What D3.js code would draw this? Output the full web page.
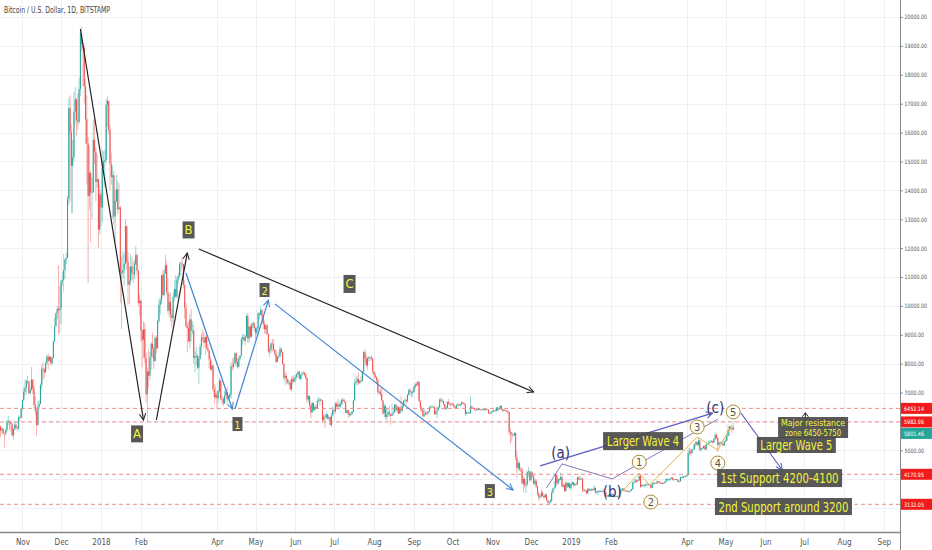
<!DOCTYPE html>
<html>
<head>
<meta charset="utf-8">
<script src="https://d3js.org/d3.v7.min.js"></script>
<style>
html, body { margin: 0; padding: 0; background: #fff; }
svg { display: block; }
.tick text { fill: #555; }
</style>
</head>
<body>
<svg id="chart" width="932" height="550"></svg>
<script>
// ---- data (Bitstamp BTC/USD daily) ----
var monthStarts = ["2017-10-15","2017-11-01","2017-12-01","2018-01-01","2018-02-01","2018-03-01",
  "2018-04-01","2018-05-01","2018-06-01","2018-07-01","2018-08-01","2018-09-01","2018-10-01",
  "2018-11-01","2018-12-01","2019-01-01","2019-02-01","2019-03-01","2019-04-01","2019-05-01"];

var firstOpen = 5830;

var closes = [
  [5690,5750,5600,5590,5710,6000,6000,5980,5900,5520,5740,5890,5770,5760,6140,6130,6450],
  [6740,7030,7160,7400,7380,6980,7100,7450,7140,6570,6340,5870,6520,6600,7270,7830,7800,7700,8030,8240,8100,8240,8020,8200,8770,9300,9740,9900,9850,9920],
  [10860,10910,11240,11610,11670,13710,16850,16000,14850,15150,16730,17150,16450,16370,17500,19430,19050,18940,17600,16460,15620,13800,14610,13920,13950,15750,15330,14290,14390,12640,13860],
  [13410,14760,15000,15050,16960,17100,16090,14920,14460,14520,13090,13630,14040,13340,13410,11150,11140,11250,11460,12760,11510,10740,10850,11360,11120,11090,11430,11760,11210,10100,10180],
  [9140,8830,9190,8210,6940,7730,7580,8240,8690,8530,8090,8890,8530,9480,10030,10180,11060,10380,11120,11410,10470,9830,10140,9690,9580,10310,10580,10320],
  [10920,11020,11440,11470,11450,10720,9920,9300,9230,8770,9530,9140,9150,8200,8260,8270,7860,8180,8600,8910,8900,8720,8920,8550,8450,8150,7800,7930,7110,6840,6930],
  [6810,7050,7420,6790,6780,6620,6900,7020,6770,6830,6940,7920,7890,8000,8360,8060,7890,8170,8280,8860,8920,8800,8940,9650,8870,9280,8940,9350,9400,9240],
  [9070,9220,9740,9700,9850,9640,9370,9190,9320,9030,8420,8480,8700,8680,8480,8340,8060,8240,8250,8510,8400,7990,7510,7580,7470,7340,7340,7110,7470,7380,7500],
  [7530,7640,7720,7480,7610,7650,7690,7620,7510,6760,6880,6550,6310,6640,6400,6500,6460,6710,6740,6760,6710,6050,6170,6150,6250,6090,6150,5880,6210,6390],
  [6350,6620,6510,6590,6530,6600,6750,6710,6670,6300,6390,6250,6220,6260,6350,6730,7330,7380,7470,7330,7410,7400,7720,8400,8170,7940,8190,8230,8220,8180,7730],
  [7610,7540,7420,7010,7030,6940,6720,6280,6540,6150,6240,6320,6250,6190,6270,6320,6580,6390,6490,6270,6480,6370,6530,6700,6730,6700,6920,7080,7030,6990,7010],
  [7190,7280,7260,7370,6710,6480,6400,6180,6230,6300,6280,6330,6480,6490,6520,6490,6250,6340,6390,6490,6760,6710,6710,6600,6430,6460,6680,6610,6590,6620],
  [6590,6510,6460,6560,6590,6550,6590,6660,6640,6590,6260,6310,6310,6290,6520,6470,6460,6410,6400,6420,6430,6420,6410,6420,6410,6410,6420,6410,6280,6280,6330],
  [6370,6380,6360,6480,6400,6460,6540,6420,6370,6390,6380,6360,6310,5630,5610,5540,5520,5600,4760,4390,4560,4340,4330,3850,4010,3790,3820,4250,4270,3970],
  [4230,4130,3840,3950,3750,3500,3370,3400,3540,3420,3370,3470,3260,3190,3190,3230,3530,3680,3720,4140,3860,4000,3980,4080,3750,3800,3590,3880,3730,3860,3700],
  [3840,3900,3790,3840,3820,4060,4000,4010,4020,3630,3630,3610,3510,3670,3600,3630,3660,3620,3700,3540,3550,3590,3570,3590,3580,3580,3540,3440,3400,3460,3430],
  [3460,3490,3400,3400,3420,3390,3380,3640,3640,3680,3600,3610,3590,3570,3570,3600,3650,3890,3900,3960,3920,3960,4110,3740,3800,3780,3800,3800],
  [3820,3820,3790,3700,3850,3860,3870,3850,3930,3910,3860,3870,3860,3870,3920,4010,3980,3980,4020,4050,3980,3990,4000,3990,3910,3930,4070,4040,4100,4100,4100],
  [4140,4900,4960,4900,5030,5050,5190,5290,5190,5340,5020,5070,5070,5150,5030,5210,5240,5280,5290,5320,5270,5380,5530,5430,5190,5270,5280,5210,5170,5300],
  [5340,5490,5700,5830,5760,5720,5801.46]
];

var highs = [
  [5850,5790,5770,5610,5750,6050,6190,6060,6020,5940,5760,5990,6000,5840,6200,6210,6470],
  [6760,7200,7450,7450,7590,7430,7200,7880,7440,7260,6860,6470,6720,6720,7320,7970,8050,7860,8080,8300,8360,8280,8240,8250,8800,9600,9780,10000,11400,10700],
  [10900,11180,11800,11640,11840,13800,17200,17290,16280,15750,17400,17570,17200,17350,17900,19500,19666,19120,19000,17860,17280,15820,15550,14680,14450,16450,16490,15500,15260,14400,14200],
  [14000,15400,15350,15400,17170,17250,17080,16270,15300,14870,14680,14000,14540,14340,14240,13470,11700,11900,11800,13000,12780,11860,11360,11800,11700,11540,11620,12070,11820,11250,10400],
  [10230,9180,9460,9400,8370,7870,8520,8400,8740,9070,8600,8970,8980,9520,10240,10300,11080,11250,11250,11770,11570,10950,10420,10470,9880,10460,10880,11060],
  [11040,11150,11520,11530,11690,11450,10890,10100,9420,9450,9700,9880,9470,9340,8420,8580,8350,8270,8690,9050,9170,9090,8980,8990,8680,8480,8250,8090,7970,7290,7220],
  [7050,7100,7520,7440,6910,6860,7070,7100,7180,6890,6980,8060,8200,8190,8400,8390,8180,8240,8300,8930,9040,9020,9000,9720,9750,9300,9380,9400,9460,9450],
  [9260,9270,9790,9780,9990,9910,9680,9480,9370,9390,9050,8620,8740,8870,8840,8500,8460,8270,8390,8600,8560,8430,8030,7720,7660,7480,7420,7430,7550,7580,7610],
  [7600,7680,7760,7760,7650,7710,7750,7710,7680,7510,6920,6900,6600,6700,6660,6560,6580,6800,6860,6800,6790,6740,6250,6270,6350,6270,6200,6170,6300,6530],
  [6450,6680,6680,6780,6690,6690,6820,6800,6790,6690,6400,6400,6340,6330,6370,6750,7480,7560,7560,7700,7430,7570,7750,8450,8490,8300,8240,8260,8240,8280,8200],
  [7750,7700,7560,7480,7100,7160,7150,6740,6620,6560,6480,6410,6540,6270,6620,6480,6600,6600,6560,6540,6500,6890,6600,6740,6810,6770,6950,7140,7150,7080,7080],
  [7240,7340,7350,7400,7380,6720,6530,6450,6450,6350,6380,6370,6530,6570,6560,6530,6520,6390,6520,6530,6800,6830,6780,6720,6600,6530,6700,6780,6640,6630],
  [6640,6610,6530,6600,6640,6600,6610,6690,6680,6640,6590,6350,6330,6330,6900,6560,6480,6490,6430,6440,6460,6450,6440,6440,6440,6430,6440,6430,6420,6310,6360],
  [6400,6420,6400,6500,6500,6480,6560,6550,6430,6420,6410,6400,6380,6340,5750,5630,5560,5650,5620,4980,4650,4620,4430,4400,4110,4070,3920,4300,4420,4290],
  [4300,4240,4140,4040,3950,3770,3550,3450,3640,3610,3430,3510,3480,3280,3270,3310,3610,3690,3950,4170,4190,4020,4040,4230,4120,3860,3840,3950,3890,3900,3880],
  [3850,3930,3900,3860,3880,4090,4090,4110,4060,4030,3690,3650,3630,3700,3690,3680,3680,3670,3780,3720,3580,3630,3620,3610,3610,3680,3590,3540,3450,3480,3500],
  [3510,3500,3500,3440,3440,3430,3400,3720,3680,3690,3690,3630,3640,3610,3620,3640,3680,3920,4000,4000,4000,3980,4200,4180,3840,3820,3830,3880],
  [3860,3840,3840,3800,3880,3890,3900,3900,3960,3940,3920,3890,3890,3900,3940,4040,4020,4030,4050,4080,4080,4010,4020,4010,4000,3950,4100,4080,4120,4140,4120],
  [4160,5060,5100,5050,5060,5240,5230,5340,5300,5450,5360,5100,5120,5170,5190,5240,5270,5350,5350,5360,5340,5430,5620,5590,5460,5300,5310,5290,5260,5320],
  [5400,5540,5890,5840,5840,5810,5980]
];

var lows = [
  [5450,5570,5530,5100,5500,5620,5870,5700,5660,5480,5360,5680,5710,5700,5710,6030,6110],
  [6380,6680,6900,6970,7280,6940,6950,7050,6960,6430,6200,5500,5870,6420,6600,7110,7450,7500,7680,7950,7810,8080,7930,7960,8160,8740,9270,9530,9000,9080],
  [9390,10700,10500,10930,11450,11650,13500,13600,13200,13200,15000,16290,15870,16100,16280,17250,18800,17600,17000,15600,14200,10800,13330,12200,13000,13900,14900,13630,14090,12000,12480],
  [12750,12900,14680,14100,14950,16210,15950,14000,14200,13020,12800,12200,13580,13170,13350,10100,9200,10950,10700,11430,11250,10040,10060,10700,10900,10800,10930,11410,11050,10000,9660],
  [8760,7880,8190,8020,6650,5970,7150,7430,7800,8200,7820,8080,8360,8520,9400,9700,10060,10300,10340,11100,10420,9750,9600,9470,9250,9400,10150,10260],
  [10240,10750,11000,11050,11270,10600,9550,9230,8400,8740,8530,8770,9020,8000,7700,7950,7800,7300,8140,8300,8780,8550,8300,8500,8400,7850,7780,7730,7040,6600,6780],
  [6430,6630,7000,6720,6580,6520,6610,6880,6620,6720,6810,6780,7760,7820,7990,7930,7830,7860,8110,8260,8620,8750,8650,8920,8720,8730,8880,8900,9230,9130],
  [8850,8980,9180,9520,9670,9460,9190,9040,9020,9000,8350,8230,8340,8400,8440,8250,8030,8040,8160,8220,8350,7970,7430,7260,7320,7290,7240,7090,7060,7290,7350],
  [7360,7440,7600,7460,7400,7470,7640,7560,7450,6650,6650,6470,6110,6300,6360,6360,6440,6420,6660,6550,6690,5950,5980,5770,6080,6070,6040,5850,5790,6180],
  [6260,6270,6480,6410,6480,6470,6560,6660,6640,6280,6280,6130,6160,6190,6230,6330,6720,7270,7240,7280,7290,7380,7380,7680,8030,7890,7800,8080,8100,8100,7670],
  [7460,7480,7300,6940,6920,6860,6700,6240,6150,6100,6030,6160,6170,5890,6190,6200,6290,6350,6300,6250,6270,6280,6330,6470,6660,6570,6660,6890,6900,6830,6850],
  [7000,7110,7210,7220,6680,6330,6350,6140,6160,6230,6210,6230,6320,6420,6480,6440,6230,6240,6120,6380,6470,6670,6660,6560,6400,6400,6440,6580,6510,6540],
  [6540,6470,6420,6450,6510,6530,6520,6570,6600,6550,6190,6230,6290,6250,6260,6430,6430,6380,6380,6370,6400,6390,6380,6390,6380,6380,6390,6380,6270,6260,6270],
  [6310,6330,6320,6330,6370,6370,6440,6390,6320,6360,6350,6330,6260,5520,5210,5310,5460,5490,4660,4060,4290,4290,4250,3810,3540,3700,3520,3750,4080,3900],
  [3950,4070,3820,3780,3700,3430,3240,3320,3400,3380,3330,3360,3250,3170,3122,3180,3220,3500,3640,3720,3780,3800,3930,3970,3710,3710,3560,3580,3690,3720,3650],
  [3640,3780,3750,3760,3790,3800,3980,3960,3990,3550,3560,3560,3470,3500,3580,3590,3580,3590,3610,3480,3520,3440,3550,3550,3540,3560,3490,3380,3380,3390,3400],
  [3410,3440,3390,3380,3390,3370,3360,3380,3600,3610,3590,3570,3570,3550,3550,3560,3600,3640,3840,3880,3890,3900,3940,3700,3730,3760,3690,3780],
  [3780,3800,3760,3680,3700,3820,3840,3840,3850,3880,3840,3830,3830,3840,3860,3910,3960,3950,3960,4000,3960,3960,3970,3980,3900,3880,3920,4020,4030,4070,4080],
  [4100,4130,4830,4790,4890,5010,5030,5180,5140,5150,4980,4940,5040,5050,5010,5010,5180,5220,5240,5260,5240,5260,5370,5400,4940,5150,5240,5180,5150,5160],
  [5290,5320,5490,5510,5690,5600,5700]
];

var tickDates = ["2017-11-01","2017-12-01","2018-01-01","2018-02-01","2018-04-01","2018-05-01","2018-06-01",
  "2018-07-01","2018-08-01","2018-09-01","2018-10-01","2018-11-01","2018-12-01","2019-01-01","2019-02-01",
  "2019-04-01","2019-05-01","2019-06-01","2019-07-01","2019-08-01","2019-09-01"];
var tickLabels = ["Nov","Dec","2018","Feb","Apr","May","Jun","Jul","Aug","Sep","Oct","Nov","Dec","2019","Feb",
  "Apr","May","Jun","Jul","Aug","Sep"];

var priceTicks = [3000,4000,5000,6000,7000,8000,9000,10000,11000,12000,13000,14000,15000,16000,17000,18000,19000,20000];
var levelPrices = [6452.14, 5982.96, 4170.95, 3132.05];
var lastPrice = 5801.46;

// ---- layout ----
var width = 932, height = 550, plotRight = 900, plotBottom = 532;
var upColor = "#26a69a", downColor = "#ef5350";
var narrow = "'Liberation Sans Narrow','DejaVu Sans Condensed','Roboto Condensed',sans-serif";
var fmt = d3.format(".2f");

var parse = d3.utcParse("%Y-%m-%d");
var x = d3.scaleUtc()
  .domain([parse("2018-01-01"), parse("2019-01-01")])
  .range([101, 571]);
var y = d3.scaleLinear().domain([3132.05, 20000]).range([504.3, 17]);

var svg = d3.select("#chart");

var defs = svg.append("defs");
defs.append("clipPath").attr("id", "plotclip")
  .append("rect").attr("x", 0).attr("y", 0).attr("width", plotRight).attr("height", plotBottom);

function marker(id, color) {
  defs.append("marker")
    .attr("id", id)
    .attr("viewBox", "0 0 10 10")
    .attr("refX", 9).attr("refY", 5)
    .attr("markerWidth", 8).attr("markerHeight", 8)
    .attr("markerUnits", "userSpaceOnUse")
    .attr("orient", "auto")
    .append("path")
    .attr("d", "M1,1 L9,5 L1,9")
    .attr("fill", "none")
    .attr("stroke", color)
    .attr("stroke-width", 1.3);
}
marker("arr-black", "#222");
marker("arr-blue", "#3d85d1");
marker("arr-indigo", "#5a5fc0");

// ---- grid ----
var grid = svg.append("g");
grid.selectAll(".hg").data(priceTicks).enter().append("line")
  .attr("x1", 0).attr("x2", plotRight)
  .attr("y1", function(d) { return Math.round(y(d)) + 0.5; })
  .attr("y2", function(d) { return Math.round(y(d)) + 0.5; })
  .attr("stroke", "#eef0f5");
grid.selectAll(".vg").data(tickDates).enter().append("line")
  .attr("y1", 0).attr("y2", plotBottom)
  .attr("x1", function(d) { return Math.round(x(parse(d))) + 0.5; })
  .attr("x2", function(d) { return Math.round(x(parse(d))) + 0.5; })
  .attr("stroke", "#eef0f5");

// ---- candles ----
var candles = [];
var prev = firstOpen;
monthStarts.forEach(function(m, mi) {
  var start = parse(m);
  closes[mi].forEach(function(c, i) {
    var o = prev;
    candles.push({
      date: d3.utcDay.offset(start, i),
      o: o, c: c,
      h: Math.max(highs[mi][i], o, c),
      l: Math.min(lows[mi][i], o, c)
    });
    prev = c;
  });
});

var cg = svg.append("g").attr("clip-path", "url(#plotclip)");
cg.selectAll(".wick").data(candles).enter().append("line")
  .attr("x1", function(d) { return x(d.date); })
  .attr("x2", function(d) { return x(d.date); })
  .attr("y1", function(d) { return y(d.h); })
  .attr("y2", function(d) { return y(d.l); })
  .attr("stroke", function(d) { return d.c >= d.o ? upColor : downColor; })
  .attr("stroke-width", 0.6)
  .attr("opacity", 0.75);
cg.selectAll(".body").data(candles).enter().append("rect")
  .attr("x", function(d) { return x(d.date) - 0.55; })
  .attr("width", 1.1)
  .attr("y", function(d) { return y(Math.max(d.o, d.c)); })
  .attr("height", function(d) { return Math.max(0.8, Math.abs(y(d.o) - y(d.c))); })
  .attr("fill", function(d) { return d.c >= d.o ? upColor : downColor; });

// ---- support / resistance levels ----
svg.append("g").selectAll("line").data(levelPrices).enter().append("line")
  .attr("x1", 0).attr("x2", plotRight)
  .attr("y1", function(d) { return y(d); })
  .attr("y2", function(d) { return y(d); })
  .attr("stroke", "#f08c8c")
  .attr("stroke-width", 1)
  .attr("stroke-dasharray", "4,3");

// ---- annotations (anchored in date / price space) ----
var ann = svg.append("g").attr("clip-path", "url(#plotclip)");
function pt(p) { return [x(parse(p[0])), y(p[1])]; }
function segment(a, b, color, mk, w) {
  var p1 = pt(a), p2 = pt(b);
  ann.append("line")
    .attr("x1", p1[0]).attr("y1", p1[1]).attr("x2", p2[0]).attr("y2", p2[1])
    .attr("stroke", color).attr("stroke-width", w || 1.2)
    .attr("marker-end", mk ? "url(#" + mk + ")" : null);
}
function path(points, color, w) {
  ann.append("path")
    .attr("d", d3.line()(points.map(pt)))
    .attr("fill", "none").attr("stroke", color).attr("stroke-width", w || 1);
}

var blackArrows = [
  [["2017-12-16", 19585], ["2018-02-03", 6050]],
  [["2018-02-13", 6050], ["2018-03-09", 11830]],
  [["2018-03-18", 11970], ["2018-12-03", 7020]]
];
var blueArrows = [
  [["2018-03-08", 11140], ["2018-04-13", 6430]],
  [["2018-04-15", 6430], ["2018-05-11", 10200]],
  [["2018-05-16", 10070], ["2018-11-17", 3630]]
];
blackArrows.forEach(function(s) { segment(s[0], s[1], "#222", "arr-black", 1.2); });
blueArrows.forEach(function(s) { segment(s[0], s[1], "#3d85d1", "arr-blue", 1.2); });

path([["2018-12-13", 3700], ["2018-12-25", 4530], ["2019-02-02", 4010], ["2019-04-25", 6080]], "#8677b8", 1);
path([["2019-02-07", 3450], ["2019-02-23", 4215], ["2019-03-03", 3800], ["2019-04-09", 5460],
      ["2019-04-25", 5010], ["2019-05-06", 5880]], "#e8b04a", 1);
segment(["2018-12-08", 4460], ["2019-04-21", 6290], "#5a5fc0", "arr-indigo", 1.2);
segment(["2019-05-13", 6290], ["2019-06-14", 4320], "#5a5fc0", "arr-indigo", 1.1);

// small note caret above the resistance note
var caret = pt(["2019-07-02", 6300]);
ann.append("path")
  .attr("d", "M" + (caret[0] - 3) + "," + (caret[1] + 4) + " L" + caret[0] + "," + caret[1] +
    " L" + (caret[0] + 3) + "," + (caret[1] + 4) + " M" + caret[0] + "," + caret[1] + " L" + caret[0] + "," + (caret[1] + 7))
  .attr("fill", "none").attr("stroke", "#222").attr("stroke-width", 1);

// wave letter boxes
var waveBoxes = [
  { t: "A", p: ["2018-01-29", 5570], w: 12, h: 17 },
  { t: "B", p: ["2018-03-10", 12630], w: 12, h: 17 },
  { t: "C", p: ["2018-07-13", 10760], w: 12, h: 18 },
  { t: "1", p: ["2018-04-17", 5910], w: 10, h: 14 },
  { t: "2", p: ["2018-05-08", 10550], w: 10, h: 14 },
  { t: "3", p: ["2018-10-30", 3590], w: 10, h: 14 }
];
waveBoxes.forEach(function(b) {
  var c = pt(b.p);
  ann.append("rect")
    .attr("x", c[0] - b.w / 2).attr("y", c[1] - b.h / 2)
    .attr("width", b.w).attr("height", b.h)
    .attr("fill", "#4a4a4a").attr("opacity", 0.92);
  ann.append("text")
    .attr("x", c[0]).attr("y", c[1] + 4.5)
    .attr("text-anchor", "middle")
    .attr("font-family", narrow).attr("font-size", b.h > 15 ? 13 : 11)
    .attr("fill", "#f4f43c")
    .text(b.t);
});

// (a) (b) (c)
var waveABC = [
  { t: "(a)", p: ["2018-12-24", 4910] },
  { t: "(b)", p: ["2019-02-02", 3560] },
  { t: "(c)", p: ["2019-04-23", 6450] }
];
waveABC.forEach(function(b) {
  var c = pt(b.p);
  ann.append("text")
    .attr("x", c[0]).attr("y", c[1] + 5)
    .attr("text-anchor", "middle")
    .attr("font-family", narrow).attr("font-size", 15)
    .attr("fill", "#34346f")
    .text(b.t);
});

// circled impulse counts
var circled = [
  { t: "1", p: ["2019-02-23", 4590] },
  { t: "2", p: ["2019-03-04", 3210] },
  { t: "3", p: ["2019-04-09", 5810] },
  { t: "4", p: ["2019-04-25", 4560] },
  { t: "5", p: ["2019-05-07", 6330] }
];
circled.forEach(function(b) {
  var c = pt(b.p);
  ann.append("circle")
    .attr("cx", c[0]).attr("cy", c[1]).attr("r", 7)
    .attr("fill", "#fffdf2").attr("stroke", "#a8893a").attr("stroke-width", 1);
  ann.append("text")
    .attr("x", c[0]).attr("y", c[1] + 4)
    .attr("text-anchor", "middle")
    .attr("font-family", narrow).attr("font-size", 11)
    .attr("fill", "#555")
    .text(b.t);
});

// text notes
var notes = [
  { lines: ["Larger Wave 4"], p: ["2019-02-26", 5320], w: 80, h: 18, fs: 14, tw: [72] },
  { lines: ["Larger Wave 5"], p: ["2019-06-25", 5185], w: 79, h: 16, fs: 14, tw: [72] },
  { lines: ["Major resistance", "zone 6450-5750"], p: ["2019-07-08", 5790], w: 70, h: 21, fs: 9.5, tw: [64, 56] },
  { lines: ["1st Support 4200-4100"], p: ["2019-06-12", 4040], w: 125, h: 18, fs: 14, tw: [118] },
  { lines: ["2nd Support around 3200"], p: ["2019-06-15", 3055], w: 137, h: 17, fs: 14, tw: [130] }
];
var ng = svg.append("g");
notes.forEach(function(n) {
  var c = pt(n.p);
  ng.append("rect")
    .attr("x", c[0] - n.w / 2).attr("y", c[1] - n.h / 2)
    .attr("width", n.w).attr("height", n.h)
    .attr("fill", "#4a4a4a").attr("opacity", 0.92);
  var lh = n.fs * 1.05;
  n.lines.forEach(function(s, i) {
    var ty = c[1] - (n.lines.length - 1) * lh / 2 + i * lh + n.fs * 0.36;
    ng.append("text")
      .attr("x", c[0]).attr("y", ty)
      .attr("text-anchor", "middle")
      .attr("font-family", narrow).attr("font-size", n.fs)
      .attr("textLength", n.tw[i]).attr("lengthAdjust", "spacingAndGlyphs")
      .attr("fill", "#f4f43c")
      .text(s);
  });
});

// ---- price tags on the scale (collision-stacked like the platform does) ----
var tags = levelPrices.map(function(v) { return { v: v, bg: "#f21b1b" }; });
tags.push({ v: lastPrice, bg: upColor });
tags.sort(function(a, b) { return y(a.v) - y(b.v); });
var lastY = -100;
tags.forEach(function(t) {
  t.cy = Math.max(y(t.v), lastY + 11.5);
  lastY = t.cy;
});

// ---- axes ----
svg.append("rect").attr("x", plotRight).attr("y", 0).attr("width", width - plotRight).attr("height", height).attr("fill", "#fff");
svg.append("rect").attr("x", 0).attr("y", plotBottom).attr("width", plotRight).attr("height", height - plotBottom).attr("fill", "#fff");

// hide the scale numbers that sit under a price tag
var shownTicks = priceTicks.filter(function(v) {
  return tags.every(function(t) { return Math.abs(y(v) - t.cy) > 9; });
});

var yAxis = svg.append("g")
  .attr("transform", "translate(" + plotRight + ",0)")
  .call(d3.axisRight(y).tickValues(shownTicks).tickFormat(fmt).tickSize(3).tickPadding(1.5));
yAxis.select(".domain").remove();
yAxis.selectAll(".tick line").attr("stroke", "#888");
yAxis.selectAll(".tick text")
  .attr("font-family", "'DejaVu Sans Condensed',sans-serif").attr("font-size", 6)
  .attr("textLength", function(d) { return fmt(d).length * 2.8; })
  .attr("lengthAdjust", "spacingAndGlyphs");

var xAxis = svg.append("g")
  .attr("transform", "translate(0," + plotBottom + ")")
  .call(d3.axisBottom(x).tickValues(tickDates.map(parse))
    .tickFormat(function(d, i) { return tickLabels[i]; }).tickSize(0).tickPadding(7));
xAxis.select(".domain").remove();
xAxis.selectAll(".tick text").attr("font-family", narrow).attr("font-size", 8);

svg.append("line").attr("x1", plotRight + 0.5).attr("x2", plotRight + 0.5).attr("y1", 0).attr("y2", height)
  .attr("stroke", "#888");
svg.append("line").attr("x1", 0).attr("x2", plotRight).attr("y1", plotBottom + 0.5).attr("y2", plotBottom + 0.5)
  .attr("stroke", "#888").attr("stroke-width", 1.5);

var tg = svg.append("g");
tg.selectAll("rect").data(tags).enter().append("rect")
  .attr("x", plotRight + 1).attr("y", function(d) { return d.cy - 5.5; })
  .attr("width", width - plotRight - 1).attr("height", 11)
  .attr("fill", function(d) { return d.bg; });
tg.selectAll("text").data(tags).enter().append("text")
  .attr("x", plotRight + 4).attr("y", function(d) { return d.cy + 2.5; })
  .attr("font-family", "'DejaVu Sans Condensed',sans-serif").attr("font-size", 6)
  .attr("textLength", 20).attr("lengthAdjust", "spacingAndGlyphs")
  .attr("fill", "#fff")
  .text(function(d) { return fmt(d.v); });

// ---- title ----
svg.append("text")
  .attr("x", 4).attr("y", 13)
  .attr("font-family", narrow).attr("font-size", 9.5)
  .attr("textLength", 106).attr("lengthAdjust", "spacingAndGlyphs")
  .attr("fill", "#444")
  .text("Bitcoin / U.S. Dollar, 1D, BITSTAMP");
</script>
</body>
</html>
